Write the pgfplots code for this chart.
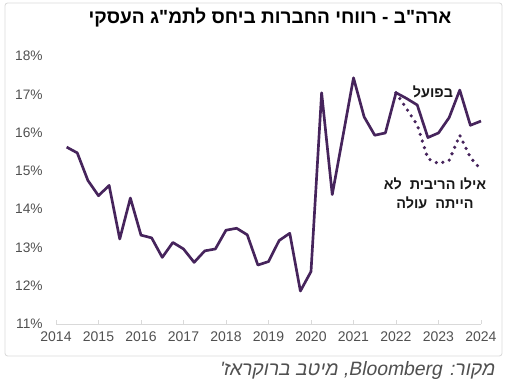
\documentclass[border=0pt]{standalone}
\usepackage{fontspec}
\setmainfont{Liberation Sans}
\newfontfamily\hebfont[Script=Hebrew]{Liberation Sans}
\newfontfamily\srcfont[Script=Hebrew,FakeSlant=0.2]{Liberation Sans}
\TeXXeTstate=1
\usepackage{pgfplots}
\pgfplotsset{compat=1.18}
\definecolor{lineC}{RGB}{70,36,92}
\definecolor{tickC}{RGB}{80,80,80}
\definecolor{frameC}{RGB}{217,217,217}
\begin{document}
\begin{tikzpicture}[x=0.75pt,y=0.75pt]
\path[use as bounding box] (0,0) rectangle (506,384);
\draw[frameC, line width=0.6pt, rounded corners=2pt] (5,28) rectangle (502,381);
\begin{axis}[
  at={(42pt,45pt)}, anchor=south west,
  scale only axis, width=318.75pt, height=201pt,
  xmin=2014, xmax=2024, ymin=11, ymax=18,
  axis x line=bottom, axis y line=left,
  y axis line style={draw=none},
  x axis line style={draw=frameC, line width=0.6pt, -},
  xtick={2014,...,2024}, ytick={11,...,18},
  xtick align=inside, major tick length=3pt,
  xtick style={draw=frameC, line width=0.6pt},
  ytick style={draw=none},
  xticklabel style={font=\fontsize{10.5}{12}\selectfont, text=tickC, yshift=-2pt},
  yticklabel style={font=\fontsize{10.3}{12}\selectfont, text=tickC, xshift=-5pt},
  /pgf/number format/assume math mode=true,
  xticklabel={\pgfmathprintnumber[1000 sep={}]{\tick}},
  yticklabel={\pgfmathprintnumber{\tick}\%},
  clip=false,
]
\addplot[lineC, line width=2pt, line join=round] coordinates {
(2014.25,15.62) (2014.5,15.47) (2014.75,14.75) (2015.0,14.35) (2015.25,14.62)
(2015.5,13.22) (2015.75,14.29) (2016.0,13.32) (2016.25,13.25) (2016.5,12.74)
(2016.75,13.13) (2017.0,12.96) (2017.25,12.61) (2017.5,12.91) (2017.75,12.96)
(2018.0,13.45) (2018.25,13.50) (2018.5,13.33) (2018.75,12.54) (2019.0,12.63)
(2019.25,13.18) (2019.5,13.37) (2019.75,11.86) (2020.0,12.37) (2020.25,17.04)
(2020.5,14.38) (2020.75,15.9) (2021.0,17.43) (2021.25,16.41) (2021.5,15.93)
(2021.75,15.99) (2022.0,17.04) (2022.25,16.89) (2022.5,16.72) (2022.75,15.87)
(2023.0,15.99) (2023.25,16.39) (2023.5,17.11) (2023.75,16.19) (2024.0,16.30)
};
\addplot[lineC, line width=2.7pt, line cap=round, dash pattern=on 0pt off 5.2pt] coordinates {
(2022.0,17.04) (2022.25,16.62) (2022.5,16.2) (2022.75,15.32) (2023.0,15.19)
(2023.25,15.27) (2023.5,15.93) (2023.75,15.35) (2024.0,15.03)
};
\end{axis}
\node[font=\hebfont\bfseries\fontsize{14.3}{17}\selectfont] at (270,366) {\beginR ארה"ב - רווחי החברות ביחס לתמ"ג העסקי\endR};
\node[font=\hebfont\bfseries\fontsize{10.8}{13}\selectfont, text=black!90] at (433,292) {\beginR בפועל\endR};
\node[font=\hebfont\bfseries\fontsize{10.8}{13}\selectfont, text=black!90] at (435,200) {\beginR אילו הריבית~~לא\endR};
\node[font=\hebfont\bfseries\fontsize{10.8}{13}\selectfont, text=black!90] at (435,181) {\beginR הייתה~~עולה\endR};
\node[anchor=east, font=\srcfont\fontsize{14.5}{17}\selectfont, text=tickC] at (499,13) {\beginR מקור: \beginL Bloomberg\endL, מיטב ברוקראז'\endR};
\end{tikzpicture}
\end{document}
